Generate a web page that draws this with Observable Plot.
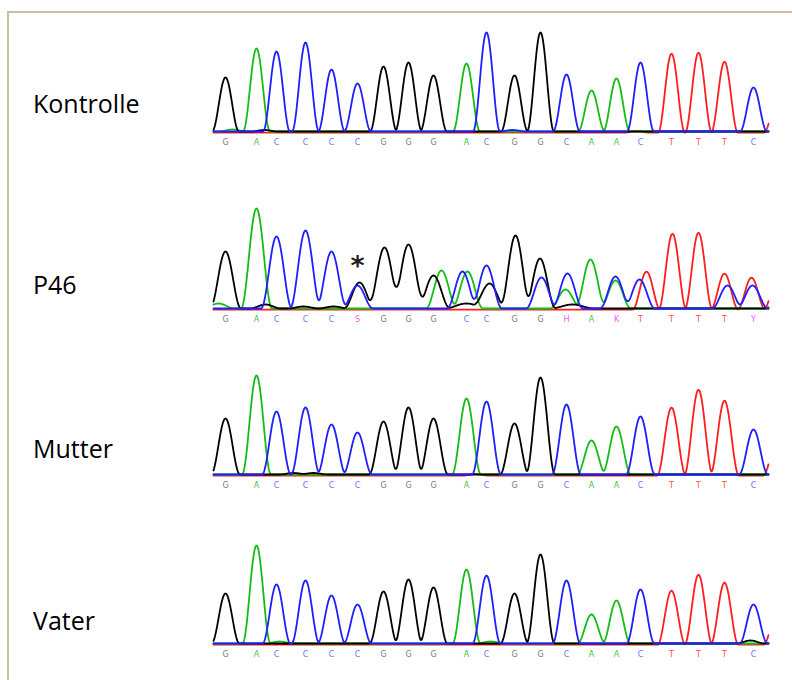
<!DOCTYPE html>
<html><head><meta charset="utf-8">
<script src="https://cdn.jsdelivr.net/npm/d3@7"></script>
<script src="https://cdn.jsdelivr.net/npm/@observablehq/plot@0.6"></script>
<style>
html,body{margin:0;padding:0;background:#fff;width:792px;height:680px;overflow:hidden;position:relative;}
#frame{position:absolute;left:7px;top:11px;width:900px;height:900px;border:2px solid #c9c09c;box-sizing:border-box;}
.panel{position:absolute;left:0;}
.name{position:absolute;left:33px;font-family:"Open Sans",sans-serif;font-size:25px;line-height:30px;color:#000;white-space:nowrap;}
</style></head><body>
<div id="frame"></div>
<div id="root"></div>
<script>
// ---------- data ----------
const sampleNames = ["Kontrolle", "P46", "Mutter", "Vater"];
// base-call positions (scan units) shared by all traces
const callX = [12, 43, 63, 92, 118, 144, 170, 195, 220, 253, 273, 301, 327, 353, 378, 403, 427, 458, 485, 511, 540];
const refCalls = ["G","A","C","C","C","C","G","G","G","A","C","G","G","C","A","A","C","T","T","T","C"];
const p46Calls = ["G","A","C","C","C","S","G","G","G","C","C","G","G","H","A","K","T","T","T","T","Y"];
// main peak heights (one per call, channel = called base)
const kontrolleHeights = [54, 83, 80, 89, 62, 48, 65, 69, 56, 68, 99, 56, 99, 57, 41, 53, 69, 79, 80, 71, 44];
const mutterHeights    = [56, 99, 63, 67, 50, 42, 53, 67, 56, 76, 73, 51, 97, 70, 34, 48, 58, 68, 86, 75, 45];
const vaterHeights     = [50, 98, 59, 63, 48, 39, 52, 64, 56, 74, 68, 50, 89, 63, 29, 43, 54, 54, 70, 62, 39];
// minor peaks: [channel, position, height]
const kontrolleMinor = [["A", 19, 2], ["G", 51, 1.5], ["C", 299, 1.5], ["T", 423, 1.5], ["T", 564, 36]];
const mutterMinor    = [["G", 80, 1.5], ["G", 100, 1.5], ["T", 262, 1.5], ["T", 564, 36]];
const vaterMinor     = [["A", 66, 2], ["A", 277, 2], ["G", 537, 3], ["T", 564, 34]];
// P46 (mixed trace): [channel, position, height, peak half-width]
const p46Peaks = [
  ["A", 5, 5, 16], ["G", 12, 57], ["A", 43, 100], ["G", 52, 4], ["C", 63, 72], ["C", 92, 78], ["C", 118, 57],
  ["G", 90, 2], ["G", 120, 2], ["C", 144, 23], ["G", 146, 26], ["G", 171, 61, 16.5], ["G", 195, 64, 16.5],
  ["G", 220, 33, 16.5], ["A", 228, 38], ["C", 249, 37], ["A", 254, 37], ["G", 253, 5, 22], ["C", 273, 43],
  ["G", 276, 25, 16.5], ["G", 302, 73], ["G", 326.5, 50], ["C", 328, 31], ["A", 352, 19], ["C", 354, 35],
  ["G", 359, 4, 22], ["A", 377, 49], ["A", 402, 28], ["C", 402, 32], ["C", 426, 29], ["T", 433, 38, 14],
  ["T", 459, 76, 14], ["T", 485, 77, 14], ["T", 511, 36, 14], ["C", 514, 23], ["T", 538, 32, 14], ["C", 539, 23],
  ["T", 564, 30, 14], ["A", 566, 8]
];
const p46MarkedCall = 5; // asterisk
const markText = "*";

// ---------- styling ----------
const channelColor = {G: "#000000", A: "#14bd14", C: "#1e1eff", T: "#ff1e1e"};
const labelColor = {G: "#7a7a7a", A: "#3fbf3f", C: "#7070ff", T: "#ff5050", S: "#ff55ff", H: "#ff55ff", K: "#ff55ff", Y: "#ff55ff"};
const drawOrder = ["T", "A", "G", "C"];

const XMAX = 555;
function buildPeaks(heights, calls, minor) {
  return heights.map((h, i) => [calls[i], callX[i], h]).concat(minor);
}
// peak shape: raised-cosine (cos²) of half-width w
function traceValue(peaks, b, x, width) {
  let y = 0;
  for (const p of peaks) {
    if (p[0] !== b) continue;
    const w = p[3] || width;
    const d = Math.abs(x - p[1]);
    if (d < w) y += p[2] * Math.cos(Math.PI * d / (2 * w)) ** 2;
  }
  return y;
}
function tracePoints(peaks, width) {
  const xs = d3.range(0, XMAX + 0.001, 0.5);
  const out = [];
  for (const b of drawOrder) for (const x of xs) out.push({base: b, x, y: traceValue(peaks, b, x, width)});
  return out;
}

const panels = [
  {name: sampleNames[0], peaks: buildPeaks(kontrolleHeights, refCalls, kontrolleMinor), calls: refCalls, width: 13.5, top: 17, nameTop: 88},
  {name: sampleNames[1], peaks: p46Peaks, calls: p46Calls, width: 15.5, top: 194, nameTop: 269, mark: p46MarkedCall},
  {name: sampleNames[2], peaks: buildPeaks(mutterHeights, refCalls, mutterMinor), calls: refCalls, width: 14.5, top: 360, nameTop: 433},
  {name: sampleNames[3], peaks: buildPeaks(vaterHeights, refCalls, vaterMinor), calls: refCalls, width: 14, top: 529, nameTop: 605}
];

const root = document.getElementById("root");
for (const pnl of panels) {
  const pts = tracePoints(pnl.peaks, pnl.width);
  const callData = pnl.calls.map((c, i) => ({x: callX[i], base: c}));
  const marks = [];
  for (const b of drawOrder) {
    marks.push(Plot.line(pts.filter(d => d.base === b), {
      x: "x", y: "y", stroke: channelColor[b], strokeWidth: 1.8,
      dy: b === "T" ? 1.2 : 0, curve: "linear"
    }));
  }
  marks.push(Plot.text(callData, {
    x: "x", y: () => 0, text: "base", fill: d => labelColor[d.base],
    dy: 11, fontSize: 8, fontFamily: "DejaVu Sans"
  }));
  if (pnl.mark !== undefined) {
    const mx = callX[pnl.mark];
    const my = Math.max(...drawOrder.map(b => traceValue(pnl.peaks, b, mx, pnl.width)));
    marks.push(Plot.text([{x: mx, y: my}], {
      x: "x", y: "y", text: () => markText, fill: "#222", fontSize: 27, fontWeight: "bold",
      fontFamily: "DejaVu Sans", dy: -17
    }));
  }
  const svg = Plot.plot({
    width: 792, height: 140,
    marginLeft: 213, marginRight: 24, marginTop: 14, marginBottom: 26,
    x: {domain: [0, XMAX], axis: null},
    y: {domain: [0, 100], axis: null},
    color: {type: "identity"},
    style: {background: "none", overflow: "visible"},
    marks
  });
  const wrap = document.createElement("div");
  wrap.className = "panel";
  wrap.style.top = pnl.top + "px";
  wrap.appendChild(svg);
  root.appendChild(wrap);
  const nm = document.createElement("div");
  nm.className = "name";
  nm.style.top = pnl.nameTop + "px";
  nm.textContent = pnl.name;
  root.appendChild(nm);
}
</script>
</body></html>
